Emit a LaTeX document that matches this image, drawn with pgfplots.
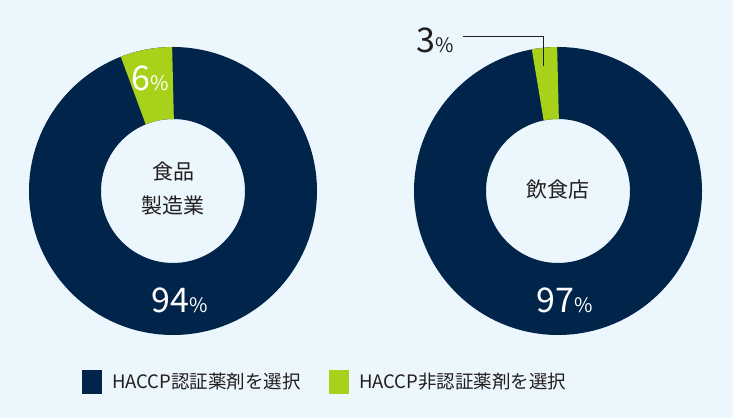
\documentclass[border=0pt]{standalone}
\usepackage{pgfplots}
\pgfplotsset{compat=1.18}
\usepackage{pgfplotstable}
\usepackage{fontspec}
\setmainfont{Noto Sans CJK JP}
\definecolor{bg}{RGB}{235,246,253}
\definecolor{navy}{RGB}{0,36,74}
\definecolor{lime}{RGB}{168,210,26}
\definecolor{ink}{RGB}{35,30,30}

\pgfplotstableread{
label value
cert 94
noncert 6
}\foodtable
\pgfplotstableread{
label value
cert 97
noncert 3
}\resttable

\begin{document}
\begin{tikzpicture}
\pgfplotstablegetelem{1}{value}\of\foodtable \let\foodG\pgfplotsretval
\pgfplotstablegetelem{1}{value}\of\resttable \let\restG\pgfplotsretval
\path[use as bounding box] (0,0) rectangle (733pt,418pt);
\fill[bg] (0,0) rectangle (733pt,418pt);
\begin{axis}[
  at={(0,0)}, anchor=south west,
  x=1pt, y=1pt, xmin=0, xmax=733, ymin=0, ymax=418,
  hide axis, clip=false, scale only axis,
]
% donut rings: navy share as full ring, green share laid over it
\draw[navy, line width=72pt] (axis cs:173,227) circle[radius=108pt];
\draw[lime, line width=72pt] (axis cs:173,227) ++(90:108pt)
  arc[start angle=90, end angle={90+3.6*\foodG}, radius=108pt];
\draw[navy, line width=72pt] (axis cs:558,227) circle[radius=108pt];
\draw[lime, line width=72pt] (axis cs:558,227) ++(90:108pt)
  arc[start angle=90, end angle={90+3.6*\restG}, radius=108pt];
% centre labels
\node[ink, font=\fontsize{21}{21}\selectfont] at (axis cs:173,246) {食品};
\node[ink, font=\fontsize{21}{21}\selectfont] at (axis cs:173,212) {製造業};
\node[ink, font=\fontsize{21}{21}\selectfont] at (axis cs:558,228) {飲食店};
% value labels
\node[white, anchor=base, inner sep=0pt] at (axis cs:150,327) {{\fontsize{34}{34}\selectfont 6}{\fontsize{20}{20}\selectfont\%}};
\node[white, anchor=base, inner sep=0pt] at (axis cs:180,106) {{\fontsize{34}{34}\selectfont 94}{\fontsize{20}{20}\selectfont\%}};
\node[white, anchor=base, inner sep=0pt] at (axis cs:565,106) {{\fontsize{34}{34}\selectfont 97}{\fontsize{20}{20}\selectfont\%}};
\node[ink, anchor=base, inner sep=0pt] at (axis cs:435,365) {{\fontsize{34}{34}\selectfont 3}{\fontsize{20}{20}\selectfont\%}};
\draw[ink, line width=0.9pt] (axis cs:463,382) -- (axis cs:543,382) -- (axis cs:543,352);
% legend
\fill[navy] (axis cs:82,24) rectangle (axis cs:102,48);
\fill[lime] (axis cs:329,24) rectangle (axis cs:349,48);
\node[ink, anchor=west, inner sep=0pt, font=\fontsize{18.5}{18.5}\selectfont] at (axis cs:112,36) {HACCP認証薬剤を選択};
\node[ink, anchor=west, inner sep=0pt, font=\fontsize{18.5}{18.5}\selectfont] at (axis cs:359,36) {HACCP非認証薬剤を選択};
\end{axis}
\end{tikzpicture}
\end{document}
